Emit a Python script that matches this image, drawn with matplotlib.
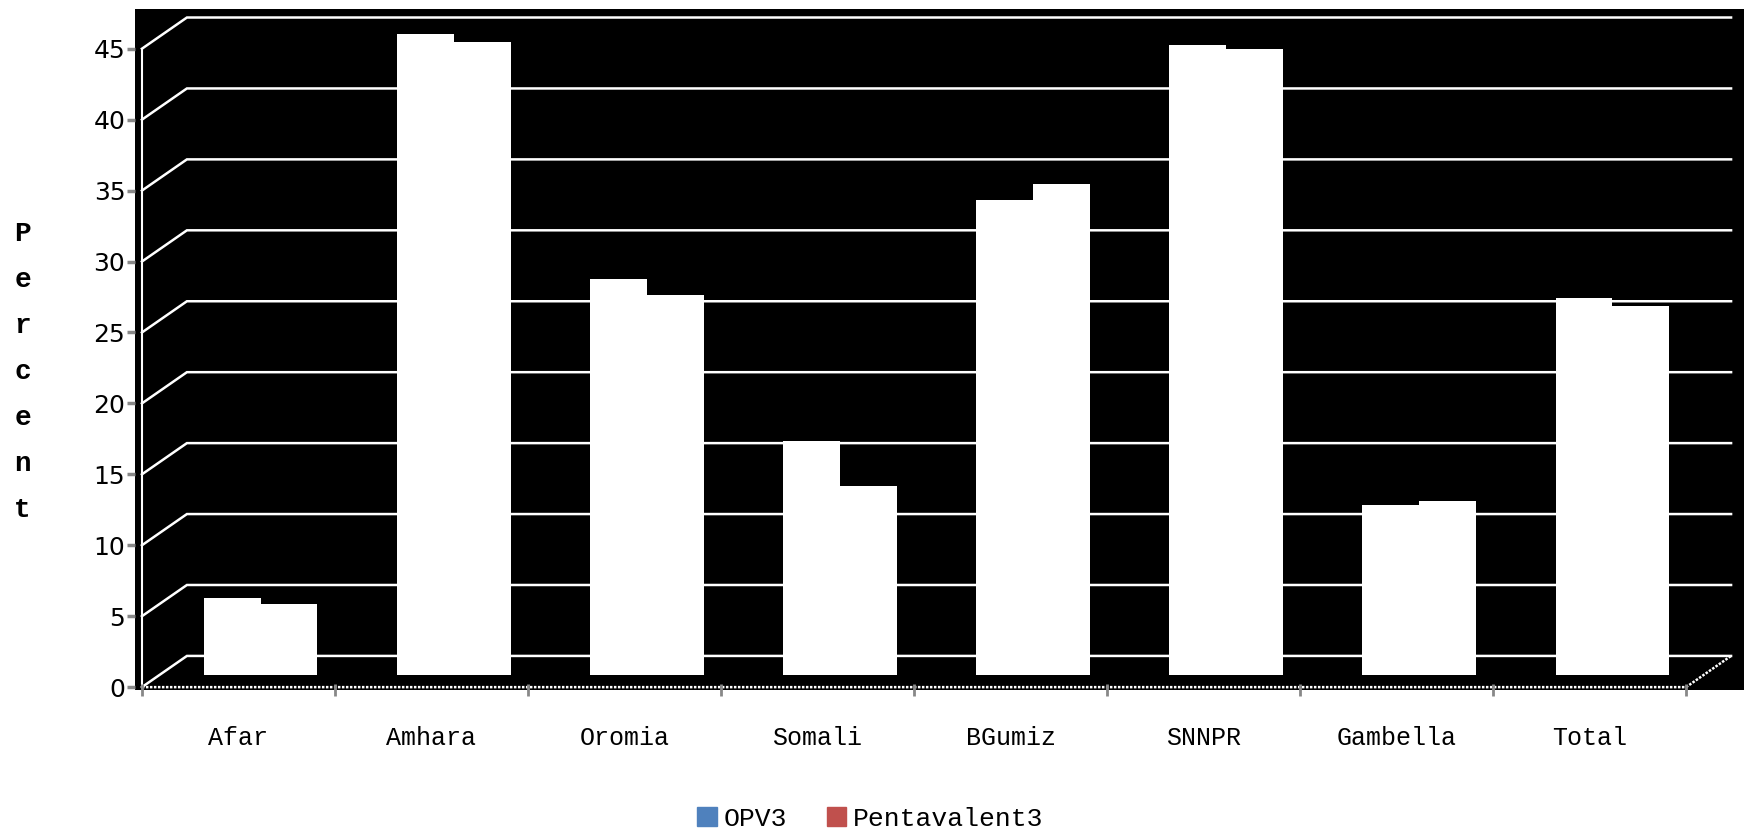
import matplotlib.pyplot as plt
from matplotlib.patches import Patch

# Datos
regions = ["Afar", "Amhara", "Oromia", "Somali", "BGumiz", "SNNPR", "Gambella", "Total"]
opv3 = [5.4, 45.2, 27.9, 16.5, 33.5, 44.4, 12.0, 26.6]
penta3 = [5.0, 44.6, 26.8, 13.3, 34.6, 44.1, 12.3, 26.0]
yticks = [0, 5, 10, 15, 20, 25, 30, 35, 40, 45]

# pseudo 3D: desplazamiento de la pared del fondo
dx, dy = 0.233, 2.2
base = 0.85
width = 0.293

fig = plt.figure(figsize=(17.44, 8.33), dpi=100)
ax = fig.add_axes([0.0774, 0.1717, 0.9226, 0.8175])
ax.set_facecolor("black")
ax.set_xlim(-0.036, 8.3)
ax.set_ylim(-0.2, 47.8)
n = len(regions)

# Líneas de la cuadrícula (con el tramo inclinado)
for v in yticks:
    ax.plot([0, dx, n + dx], [v, v + dy, v + dy], color="white", lw=1.8,
            solid_joinstyle="miter", zorder=1)

# Línea base frontal y esquina derecha
ax.plot([0, n, n + dx], [0, 0, dy], color="white", lw=1.8, ls=(0, (1, 0.6)), zorder=1)
# Eje vertical frontal
ax.plot([0, 0], [0, 45], color="white", lw=1.5, zorder=1)

# Barras (blancas en la referencia)
for i in range(n):
    c = i + 0.5 + dx / 2
    ax.bar(c - width / 2, opv3[i], width=width, bottom=base, color="white", zorder=3)
    ax.bar(c + width / 2, penta3[i], width=width, bottom=base, color="white", zorder=3)

for s in ax.spines.values():
    s.set_visible(False)

ax.set_yticks(yticks)
ax.set_yticklabels([str(v) for v in yticks], fontsize=18, family="DejaVu Sans")
ax.tick_params(axis="y", length=6, width=2.5, color="#888888", pad=1)

ax.set_xticks(range(n + 1))
ax.set_xticklabels([])
ax.tick_params(axis="x", which="major", length=8, width=2, color="#888888", direction="inout")
ax.set_xticks([i + 0.5 for i in range(n)], minor=True)
ax.set_xticklabels(regions, minor=True, fontsize=18, family="Liberation Mono")
ax.tick_params(axis="x", which="minor", length=0, pad=26)

fig.text(0.013, 0.553, "P\ne\nr\nc\ne\nn\nt", fontsize=20, family="Liberation Mono",
         fontweight="bold", ha="center", va="center", linespacing=2.0)

handles = [Patch(color="#4F81BD", label="OPV3"), Patch(color="#C0504D", label="Pentavalent3")]
fig.legend(handles=handles, loc="center", bbox_to_anchor=(0.499, 0.017), ncol=2, frameon=False,
           prop={"family": "Liberation Mono", "size": 19}, handlelength=0.75, handleheight=0.75,
           handletextpad=0.25, columnspacing=1.5)

fig.savefig("out.png", dpi=100)
